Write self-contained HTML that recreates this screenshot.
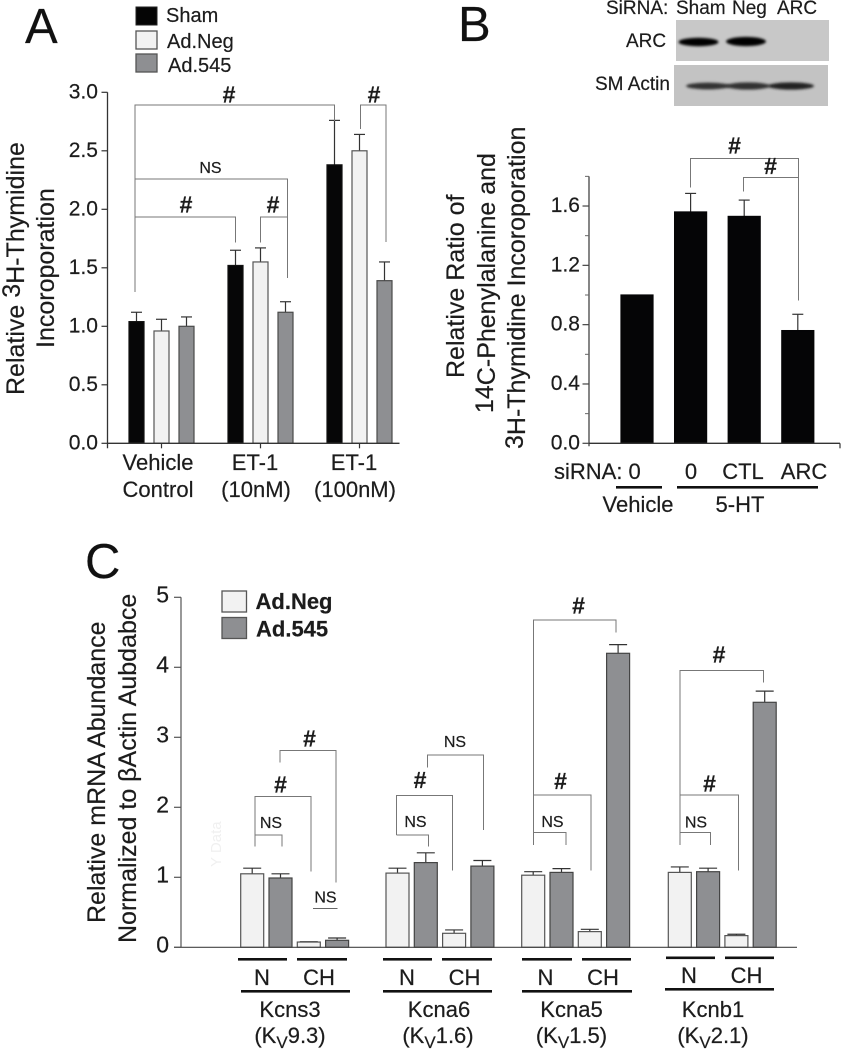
<!DOCTYPE html>
<html lang="en">
<head>
<meta charset="utf-8">
<title>Panels A, B and C bar charts</title>
<style>
html,body{margin:0;padding:0;background:#fff;}
#figure{display:block;width:841px;height:1050px;filter:blur(0.35px);font-family:"Liberation Sans",Arial,sans-serif;fill:#1c1c1c;}
#figure text{stroke:#1c1c1c;stroke-width:0.2px;}
.t19{font-size:19px}.t20{font-size:20px}.t21{font-size:21px}.t22{font-size:22px}.t23{font-size:23px}.t25{font-size:25px}
.ns{font-size:16px}.hash{font-size:23px;font-weight:bold}
.big{font-size:49px;fill:#111}
#figure text.ghost{fill:#f0f0f0;stroke:none;}
</style>
</head>
<body>
<svg id="figure" xmlns="http://www.w3.org/2000/svg" width="841" height="1050" viewBox="0 0 841 1050">
  <defs><filter id="soft" x="-20%" y="-100%" width="140%" height="300%"><feGaussianBlur stdDeviation="1.3"/></filter></defs>
  <rect x="0" y="0" width="841" height="1050" fill="#fff"/>

  <!-- Panel letters -->
  <text class="big" x="25" y="43">A</text>
  <text class="big" x="458" y="41">B</text>
  <text class="big" x="85" y="578">C</text>

  <!-- Panel A static labels -->
  <g>
    <rect x="136" y="7" width="21" height="18" fill="#050505" stroke="#222"/>
    <rect x="136" y="31" width="21" height="18" fill="#f2f2f2" stroke="#555" stroke-width="1.3"/>
    <rect x="136" y="54" width="21" height="18" fill="#8e8f92" stroke="#555" stroke-width="1.3"/>
    <text class="t20" x="166" y="22">Sham</text>
    <text class="t20" x="167" y="48">Ad.Neg</text>
    <text class="t20" x="168" y="72">Ad.545</text>
  </g>
  <text class="t25" transform="translate(24 395) rotate(-90)">Relative <tspan dy="-4">3</tspan><tspan dy="4">H-Thymidine</tspan></text>
  <text class="t25" transform="translate(54 348) rotate(-90)">Incoroporation</text>
  <g class="t22" text-anchor="middle">
    <text x="158" y="470">Vehicle</text>
    <text x="158" y="497">Control</text>
    <text x="255" y="470">ET-1</text>
    <text x="256" y="497">(10nM)</text>
    <text x="354" y="470">ET-1</text>
    <text x="355" y="497">(100nM)</text>
  </g>

  <!-- Western blot -->
  <g>
    <text class="t19" x="606" y="14">SiRNA:</text>
    <text class="t19" x="676" y="14">Sham</text>
    <text class="t19" x="732" y="14">Neg</text>
    <text class="t19" x="777" y="14">ARC</text>
    <text class="t19" x="626" y="47">ARC</text>
    <text class="t19" x="595" y="90">SM Actin</text>
    <rect x="676" y="20" width="153" height="41" fill="#c8c8c8"/>
    <rect x="674" y="65" width="154" height="41" fill="#c3c3c3"/>
    <ellipse cx="698.5" cy="42" rx="20" ry="4.2" fill="#050505" filter="url(#soft)"/>
    <ellipse cx="746" cy="41.5" rx="20" ry="4.6" fill="#050505" filter="url(#soft)"/>
    <ellipse cx="708" cy="86" rx="22" ry="3.4" fill="#333" filter="url(#soft)"/>
    <ellipse cx="748" cy="86" rx="22" ry="3.6" fill="#333" filter="url(#soft)"/>
    <ellipse cx="791" cy="86" rx="23" ry="3.6" fill="#222" filter="url(#soft)"/>
  </g>

  <!-- Panel B static labels -->
  <text class="t25" transform="translate(464 378) rotate(-90)">Relative Ratio of</text>
  <text class="t25" transform="translate(495 413) rotate(-90)"><tspan dy="-2">14</tspan><tspan dy="2">C-Phenylalanine and</tspan></text>
  <text class="t25" transform="translate(525 449) rotate(-90)"><tspan dy="-2">3</tspan><tspan dy="2">H-Thymidine Incoroporation</tspan></text>
  <g class="t22">
    <text x="554" y="479">siRNA: 0</text>
    <text x="691" y="479" text-anchor="middle">0</text>
    <text x="743" y="479" text-anchor="middle">CTL</text>
    <text x="804" y="479" text-anchor="middle">ARC</text>
    <text x="638" y="512" text-anchor="middle">Vehicle</text>
    <text x="740" y="512" text-anchor="middle">5-HT</text>
    <rect x="616" y="486" width="46" height="2.6" fill="#111"/>
    <rect x="677" y="486" width="141" height="2.6" fill="#111"/>
  </g>

  <!-- Panel C static labels -->
  <text class="t25" transform="translate(105 923) rotate(-90)">Relative mRNA Abundance</text>
  <text class="t25" transform="translate(136 943) rotate(-90)">Normalized to βActin Aubdabce</text>
  <text class="ghost" transform="translate(221 867) rotate(-90)" font-size="15">Y Data</text>
  <g>
    <rect x="222" y="591" width="24.5" height="21" fill="#f2f2f2" stroke="#555" stroke-width="1.3"/>
    <rect x="222" y="617.5" width="24.5" height="21" fill="#8e8f92" stroke="#555" stroke-width="1.3"/>
    <text x="255.5" y="609" font-size="22" font-weight="bold">Ad.Neg</text>
    <text x="256" y="636.5" font-size="22" font-weight="bold">Ad.545</text>
  </g>
  <g class="t22" text-anchor="middle">
    <text x="262" y="985">N</text>
    <text x="319" y="985">CH</text>
    <text x="290" y="1017">Kcns3</text>
    <text x="290" y="1043">(K<tspan font-size="17" dy="5">V</tspan><tspan dy="-5">9.3)</tspan></text>
    <text x="407" y="985">N</text>
    <text x="464.5" y="985">CH</text>
    <text x="439" y="1017">Kcna6</text>
    <text x="438" y="1043">(K<tspan font-size="17" dy="5">V</tspan><tspan dy="-5">1.6)</tspan></text>
    <text x="545.5" y="985">N</text>
    <text x="603" y="985">CH</text>
    <text x="571.5" y="1017">Kcna5</text>
    <text x="571.5" y="1043">(K<tspan font-size="17" dy="5">V</tspan><tspan dy="-5">1.5)</tspan></text>
    <text x="689" y="983">N</text>
    <text x="746.5" y="983">CH</text>
    <text x="713" y="1017">Kcnb1</text>
    <text x="713" y="1043">(K<tspan font-size="17" dy="5">V</tspan><tspan dy="-5">2.1)</tspan></text>
  </g>
  <g fill="#111">
    <rect x="238" y="958" width="49" height="2.6"/>
    <rect x="297" y="958" width="50" height="2.6"/>
    <rect x="241" y="990" width="109" height="2.6"/>
    <rect x="383" y="958" width="49" height="2.6"/>
    <rect x="442" y="958" width="50" height="2.6"/>
    <rect x="383" y="990" width="109" height="2.6"/>
    <rect x="522" y="958" width="50" height="2.6"/>
    <rect x="582" y="958" width="49" height="2.6"/>
    <rect x="522" y="990" width="110" height="2.6"/>
    <rect x="666" y="956.5" width="49" height="2.6"/>
    <rect x="725" y="956.5" width="49" height="2.6"/>
    <rect x="665" y="988" width="109" height="2.6"/>
  </g>
  <g id="marks"></g>
</svg>
<script>
// ---------- Panel A data ----------
const panelACategories = ['Vehicle Control', 'ET-1 (10nM)', 'ET-1 (100nM)'];
const panelASeries = ['sham', 'ad-neg', 'ad-545'];
const shamValues = [1.04, 1.52, 2.38];
const shamErrors = [0.08, 0.13, 0.38];
const adNegValues = [0.96, 1.55, 2.50];
const adNegErrors = [0.10, 0.12, 0.14];
const ad545Values = [1.00, 1.12, 1.39];
const ad545Errors = [0.08, 0.09, 0.16];
const panelATicks = ['0.0', '0.5', '1.0', '1.5', '2.0', '2.5', '3.0'];

// ---------- Panel B data ----------
const panelBCategories = ['Vehicle 0', '5-HT 0', '5-HT CTL', '5-HT ARC'];
const panelBValues = [1.0, 1.56, 1.53, 0.76];
const panelBErrors = [0, 0.125, 0.11, 0.11];
const panelBTicks = ['0.0', '0.4', '0.8', '1.2', '1.6'];
const panelBMinorTicks = [0.2, 0.6, 1.0, 1.4, 1.8];

// ---------- Panel C data ----------
const panelCGenes = ['kcns3', 'kcna6', 'kcna5', 'kcnb1'];
const panelCBarLabels = ['n-ad-neg', 'n-ad-545', 'ch-ad-neg', 'ch-ad-545'];
const kcns3Values = [1.05, 0.99, 0.075, 0.10];
const kcns3Errors = [0.08, 0.06, 0.005, 0.033];
const kcna6Values = [1.06, 1.21, 0.20, 1.16];
const kcna6Errors = [0.07, 0.14, 0.048, 0.08];
const kcna5Values = [1.03, 1.07, 0.224, 4.20];
const kcna5Errors = [0.05, 0.054, 0.033, 0.124];
const kcnb1Values = [1.07, 1.08, 0.167, 3.50];
const kcnb1Errors = [0.078, 0.05, 0.019, 0.16];
const panelCTicks = ['0', '1', '2', '3', '4', '5'];

const SVGNS = 'http://www.w3.org/2000/svg';
const root = document.getElementById('marks');

function add(tag, attrs, name, parent) {
  const node = document.createElementNS(SVGNS, tag);
  Object.keys(attrs).forEach(function (k) { node.setAttribute(k, attrs[k]); });
  
  
  (parent || root).appendChild(node);
  return node;
}
function label(cls, x, y, anchor, str, name) {
  const t = add('text', { x: x, y: y, 'text-anchor': anchor, class: cls }, name);
  t.textContent = str;
  return t;
}
function line(x1, y1, x2, y2, color, w, name) {
  return add('line', { x1: x1, y1: y1, x2: x2, y2: y2, stroke: color, 'stroke-width': w }, name);
}
// One bar with its error whisker, drawn from a value and an error
function barWithError(x, w, value, err, yScale, fill, stroke, capHalf, name) {
  const mid = x + w / 2;
  if (err > 0) {
    line(mid, yScale(value), mid, yScale(value + err), '#333', 1.2, name + '-error');
    line(mid - capHalf, yScale(value + err), mid + capHalf, yScale(value + err), '#333', 1.2, name + '-error-cap');
  }
  add('rect', { x: x, y: yScale(value), width: w, height: yScale(0) - yScale(value), fill: fill, stroke: stroke, 'stroke-width': 1.2 }, name);
}
// Significance bracket annotation
function bracket(x1, x2, top, leftBottom, rightBottom, name) {
  add('path', { d: 'M' + x1 + ' ' + leftBottom + 'V' + top + 'H' + x2 + 'V' + rightBottom, fill: 'none', stroke: '#777', 'stroke-width': 1 }, name);
}

// ---------- Panel A ----------
const yA = function (v) { return 443.3 - v * 117; };
const xA = function (group, series) { return 129 + group * 99 + series * 25; };
const tickXA = function (group) { return xA(group, 1) + 7.5; };
const panelAFills = ['#060607', '#f2f2f2', '#8e8f92'];
const panelAStrokes = ['#111', '#555', '#4a4a4a'];
const panelAV = [shamValues, adNegValues, ad545Values];
const panelAE = [shamErrors, adNegErrors, ad545Errors];
panelACategories.forEach(function (cat, g) {
  panelASeries.forEach(function (s, i) {
    barWithError(xA(g, i), 15, panelAV[i][g], panelAE[i][g], yA, panelAFills[i], panelAStrokes[i], 5.5, 'bar-a-' + s + '-' + g);
  });
  line(tickXA(g), yA(0), tickXA(g), yA(0) + 5, '#333', 1.2, 'panel-a-x-tick-' + g);
});
line(107.5, yA(3), 107.5, yA(0) + 5, '#333', 1.3, 'panel-a-y-axis');
line(107.5, yA(0), 399.5, yA(0), '#333', 1.3, 'panel-a-x-axis');
panelATicks.forEach(function (tick) {
  const v = parseFloat(tick);
  line(101.5, yA(v), 107.5, yA(v), '#333', 1.2, 'panel-a-y-tick-' + tick);
  label('t21', 98, yA(v) + 6, 'end', tick, 'panel-a-y-label-' + tick);
});
bracket(135, 334.5, 105, 292, 121, 'panel-a-bracket-vehicle-vs-100nm');
bracket(360.5, 386, 105, 129, 242, 'panel-a-bracket-100nm');
bracket(135, 287.5, 179, 179, 278, 'panel-a-bracket-ns');
bracket(135, 235.5, 217, 217, 242.5, 'panel-a-bracket-vehicle-vs-10nm');
bracket(260.5, 287.5, 217, 242.5, 217, 'panel-a-bracket-10nm');
label('hash', 229, 102.5, 'middle', '#', 'panel-a-sig-1');
label('hash', 374, 102.5, 'middle', '#', 'panel-a-sig-2');
label('hash', 186, 212.5, 'middle', '#', 'panel-a-sig-3');
label('hash', 273, 212.5, 'middle', '#', 'panel-a-sig-4');
label('ns', 210.5, 173, 'middle', 'NS', 'panel-a-ns');

// ---------- Panel B ----------
const yB = function (v) { return 443.3 - v * 148.3; };
const xB = function (i) { return 621 + i * 53.6; };
panelBCategories.forEach(function (cat, i) {
  barWithError(xB(i), 32, panelBValues[i], panelBErrors[i], yB, '#050506', '#050506', 5.5, 'bar-b-' + i);
});
line(589, yB(1.8), 589, yB(0) + 3, '#444', 1.3, 'panel-b-y-axis');
line(589, yB(0), 840, yB(0), '#333', 1.3, 'panel-b-x-axis');
line(840, yB(0), 840, yB(0) + 5, '#333', 1.2, 'panel-b-x-axis-end-tick');
panelBTicks.forEach(function (tick) {
  const v = parseFloat(tick);
  line(582.5, yB(v), 589, yB(v), '#444', 1.2, 'panel-b-y-tick-' + tick);
  label('t21', 580, yB(v) + 6, 'end', tick, 'panel-b-y-label-' + tick);
});
panelBMinorTicks.forEach(function (v) {
  line(585, yB(v), 589, yB(v), '#666', 1, 'panel-b-minor-tick-' + v);
});
bracket(690.5, 798.5, 158.5, 187.5, 300.5, 'panel-b-bracket-0-vs-arc');
bracket(743.5, 798.5, 177.5, 191.5, 177.5, 'panel-b-bracket-ctl-vs-arc');
label('hash', 734.5, 153.5, 'middle', '#', 'panel-b-sig-1');
label('hash', 770.5, 174, 'middle', '#', 'panel-b-sig-2');

// ---------- Panel C ----------
const yC = function (v) { return 947.3 - v * 70; };
const xC = function (gene, i) {
  const bandStart = { kcns3: 240.7, kcna6: 386, kcna5: 521.7, kcnb1: 668.3 };
  return bandStart[gene] + i * 28.3;
};
const panelCV = { kcns3: kcns3Values, kcna6: kcna6Values, kcna5: kcna5Values, kcnb1: kcnb1Values };
const panelCE = { kcns3: kcns3Errors, kcna6: kcna6Errors, kcna5: kcna5Errors, kcnb1: kcnb1Errors };
const panelCFills = ['#f2f2f2', '#8e8f92', '#f2f2f2', '#8e8f92'];
const panelCStrokes = ['#555', '#444', '#555', '#444'];
panelCGenes.forEach(function (gene) {
  panelCBarLabels.forEach(function (lab, i) {
    barWithError(xC(gene, i), 23, panelCV[gene][i], panelCE[gene][i], yC, panelCFills[i], panelCStrokes[i], 9, 'bar-c-' + gene + '-' + lab);
  });
});
line(181, yC(5), 181, yC(0), '#555', 1.2, 'panel-c-y-axis');
line(174, yC(0), 797, yC(0), '#444', 1.2, 'panel-c-x-axis');
panelCTicks.forEach(function (tick) {
  const v = parseFloat(tick);
  line(174, yC(v), 181, yC(v), '#555', 1.2, 'panel-c-y-tick-' + tick);
  label('t23', 169, yC(v) + 5, 'end', tick, 'panel-c-y-label-' + tick);
});
bracket(280, 336, 750.5, 762.5, 882.5, 'panel-c-bracket-kcns3-outer');
bracket(255, 311, 796.5, 846.5, 871.5, 'panel-c-bracket-kcns3-mid');
bracket(255, 282, 835, 835, 846.5, 'panel-c-bracket-kcns3-inner');
line(313, 908.5, 337.5, 908.5, '#666', 1, 'panel-c-line-kcns3-ch');
bracket(427.5, 483.5, 755, 767.5, 830, 'panel-c-bracket-kcna6-outer');
bracket(396.5, 452.5, 795.5, 835, 870.5, 'panel-c-bracket-kcna6-mid');
bracket(396.5, 428.5, 835, 835, 846.5, 'panel-c-bracket-kcna6-inner');
bracket(533.5, 616, 620, 845, 632.5, 'panel-c-bracket-kcna5-outer');
bracket(533.5, 591, 795, 795, 870.5, 'panel-c-bracket-kcna5-mid');
bracket(533.5, 566, 832.5, 832.5, 845, 'panel-c-bracket-kcna5-inner');
bracket(680, 763.5, 670.5, 845, 682.5, 'panel-c-bracket-kcnb1-outer');
bracket(680, 738.5, 795, 795, 870.5, 'panel-c-bracket-kcnb1-mid');
bracket(680, 710.5, 832.5, 832.5, 845, 'panel-c-bracket-kcnb1-inner');
label('hash', 309.5, 746.5, 'middle', '#', 'panel-c-sig-kcns3-outer');
label('hash', 280.5, 792.5, 'middle', '#', 'panel-c-sig-kcns3-mid');
label('hash', 420, 788, 'middle', '#', 'panel-c-sig-kcna6-mid');
label('hash', 578.5, 613.5, 'middle', '#', 'panel-c-sig-kcna5-outer');
label('hash', 560.5, 789, 'middle', '#', 'panel-c-sig-kcna5-mid');
label('hash', 719, 662.5, 'middle', '#', 'panel-c-sig-kcnb1-outer');
label('hash', 709.5, 791.5, 'middle', '#', 'panel-c-sig-kcnb1-mid');
label('ns', 271, 828, 'middle', 'NS', 'panel-c-ns-kcns3-n');
label('ns', 325.5, 902.5, 'middle', 'NS', 'panel-c-ns-kcns3-ch');
label('ns', 455, 747, 'middle', 'NS', 'panel-c-ns-kcna6-outer');
label('ns', 415.5, 827, 'middle', 'NS', 'panel-c-ns-kcna6-n');
label('ns', 552.5, 827, 'middle', 'NS', 'panel-c-ns-kcna5-n');
label('ns', 696, 827.5, 'middle', 'NS', 'panel-c-ns-kcnb1-n');
</script>
</body>
</html>
